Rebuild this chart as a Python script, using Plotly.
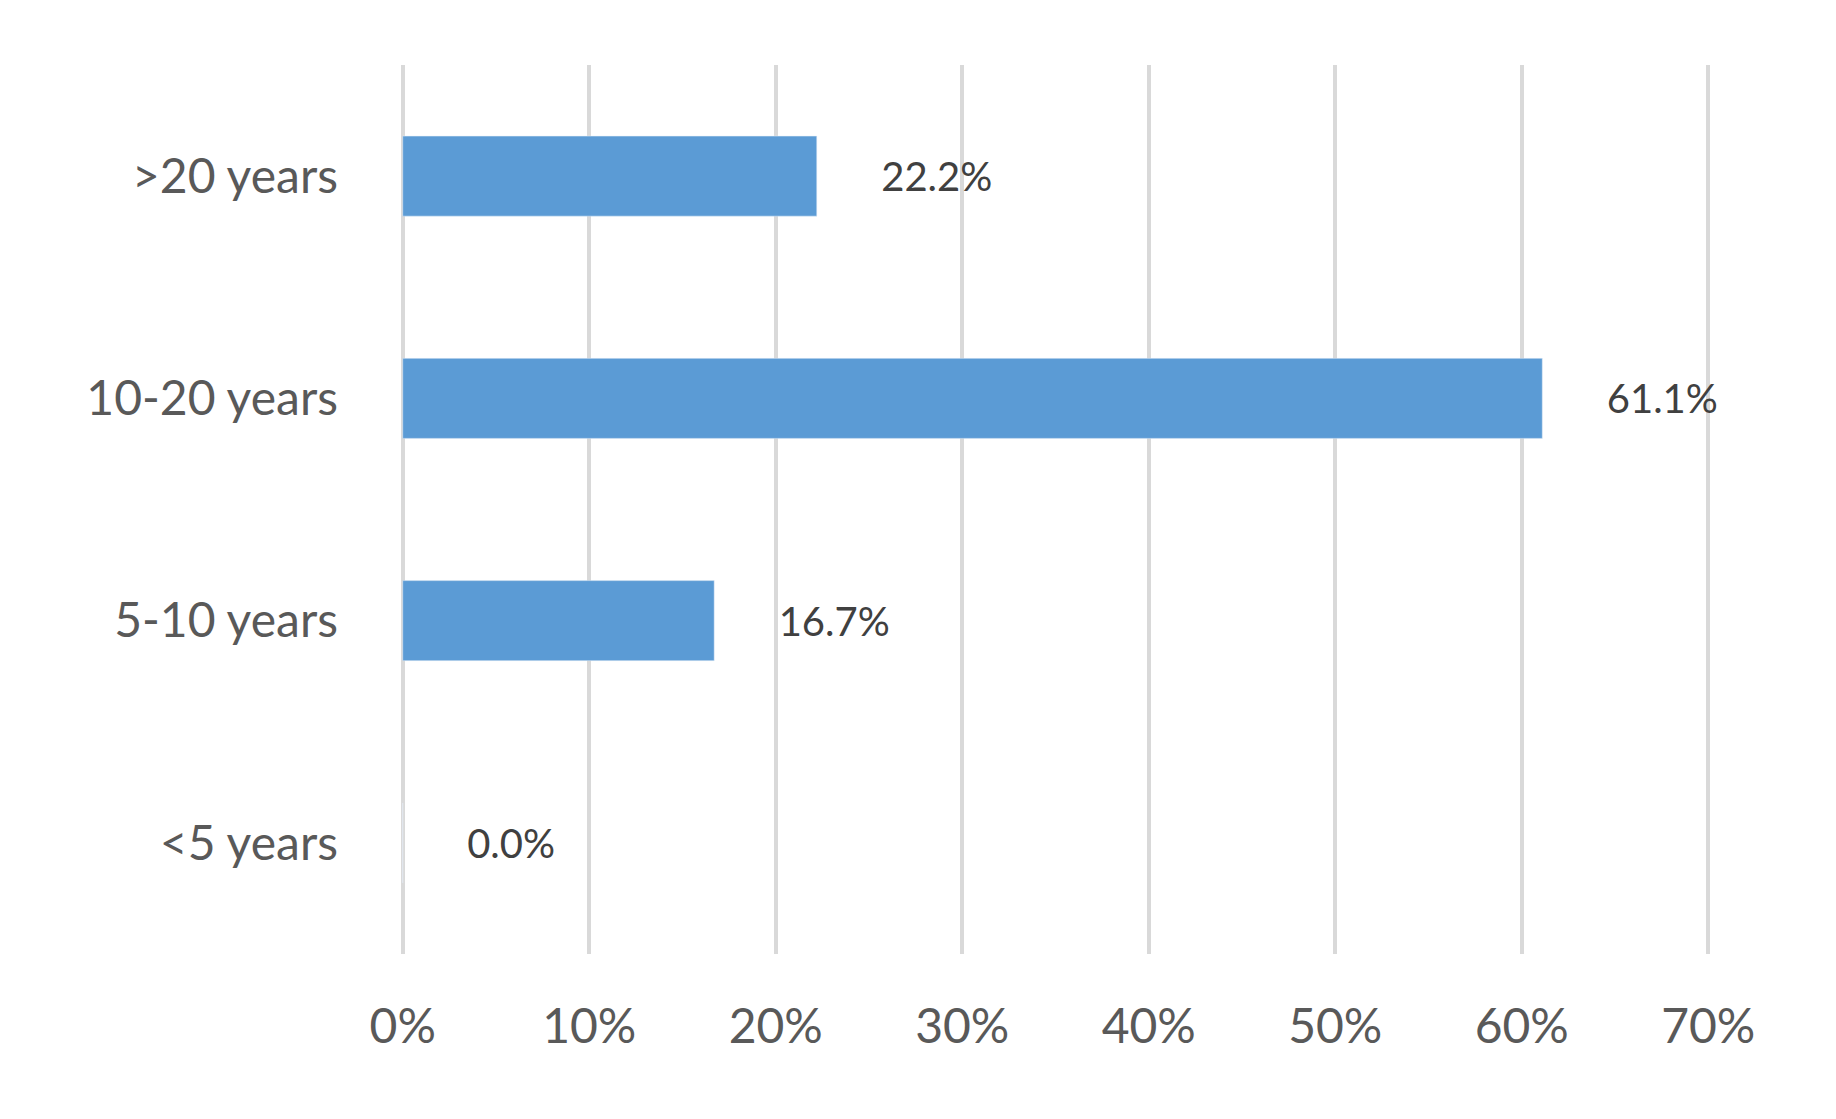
import plotly.graph_objects as go

categories = ["<5 years", "5-10 years", "10-20 years", ">20 years"]
values = [0.0, 16.7, 61.1, 22.2]
labels = ["0.0%", "16.7%", "61.1%", "22.2%"]
tick_vals = [0, 10, 20, 30, 40, 50, 60, 70]
tick_text = ["0%", "10%", "20%", "30%", "40%", "50%", "60%", "70%"]

fig = go.Figure(go.Bar(
    x=values, y=categories, orientation="h",
    marker_color="#5B9BD5",
    text=labels, texttemplate="      %{text}", textposition="outside",
    textfont=dict(size=40, color="#404040", family="Lato"),
    cliponaxis=False,
))
fig.update_layout(
    width=1836, height=1119,
    paper_bgcolor="white", plot_bgcolor="white",
    margin=dict(l=391, r=132, t=57, b=173),
    bargap=0.64,
    showlegend=False,
    font=dict(family="Lato", color="#595959"),
)
fig.update_xaxes(range=[-0.2, 70.2], tickvals=tick_vals, ticktext=tick_text,
                 showgrid=True, gridcolor="#D9D9D9", gridwidth=4,
                 zeroline=False, showline=False,
                 tickfont=dict(size=48, color="#595959"),
                 ticks="", ticklabelstandoff=40)
fig.update_yaxes(showgrid=False, showline=False, ticks="",
                 ticklabelstandoff=60,
                 tickfont=dict(size=48, color="#595959"))
fig.write_html("out.html")
